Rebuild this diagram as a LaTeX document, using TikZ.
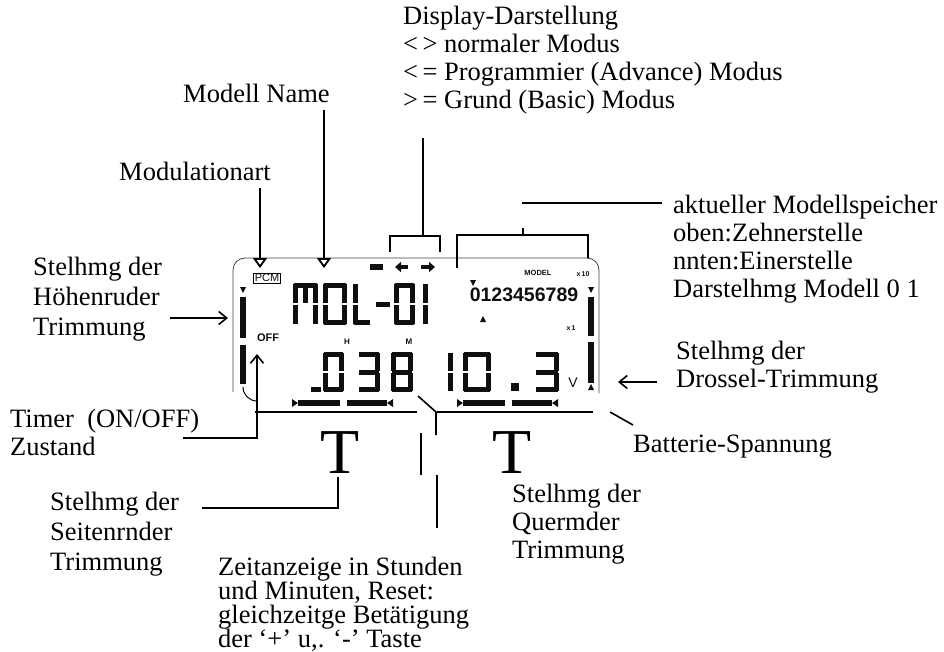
\documentclass[tikz,border=0pt]{standalone}
\usepackage{fontspec}
\setmainfont{Liberation Serif}
\newfontfamily\lcdfont{Liberation Sans}
\usetikzlibrary{arrows.meta}
\definecolor{lcdInk}{RGB}{15,15,15}

% one LCD character: x, y (top left), width, height, segments
\newcommand{\lcdchar}[5]{%
  \begin{scope}[shift={(#1,#2)}]
    \coordinate (sa1) at (1,0);          \coordinate (sa2) at (#3-1,5);
    \coordinate (sb1) at (#3-5,1);       \coordinate (sb2) at (#3,#4/2-1);
    \coordinate (sc1) at (#3-5,#4/2+1);  \coordinate (sc2) at (#3,#4-1);
    \coordinate (sd1) at (1,#4-5);       \coordinate (sd2) at (#3-1,#4);
    \coordinate (se1) at (0,#4/2+1);     \coordinate (se2) at (5,#4-1);
    \coordinate (sf1) at (0,1);          \coordinate (sf2) at (5,#4/2-1);
    \coordinate (sg1) at (1,#4/2-2.5);   \coordinate (sg2) at (#3-1,#4/2+2.5);
    \coordinate (sm1) at (#3/2-2.5,1);   \coordinate (sm2) at (#3/2+2.5,#4/2-1);
    \foreach \s in {#5} {\fill[lcdInk] (s\s1) rectangle (s\s2);}
  \end{scope}}
\newcommand{\lcdtridown}[2]{\fill[lcdInk] (#1-3,#2-3) -- (#1+3,#2-3) -- (#1,#2+3) -- cycle;}
\newcommand{\lcdtriup}[2]{\fill[lcdInk] (#1-3,#2+3) -- (#1+3,#2+3) -- (#1,#2-3) -- cycle;}

\begin{document}
\begin{tikzpicture}[x=1pt, y=-1pt,
    note/.style={anchor=base west, inner sep=0pt, align=left,
                 font={\fontsize{26.5}{28}\selectfont\lineskiplimit=-50pt}},
    wide/.style={font={\fontsize{26.5}{30}\selectfont\lineskiplimit=-50pt}},
    tight/.style={font={\fontsize{26.5}{24}\selectfont\lineskiplimit=-50pt}},
    trimT/.style={anchor=base, inner sep=0pt, font=\fontsize{64}{64}\selectfont},
    lcdtext/.style={inner sep=0pt, text=lcdInk},
    leader/.style={line width=1.6pt},
    pointer/.style={line width=1.6pt, -{Straight Barb[length=8pt,width=13pt]}},
    downtip/.style={line width=1.8pt, -{Triangle[open,length=10pt,width=14pt]}},
    frame/.style={line width=0.8pt, draw=black!75, rounded corners=12pt}]
  \useasboundingbox (0,0) rectangle (944,651);

  % labels (placed at the baseline of their last line)
  \node[note] (disp) at (403,108) {Display-Darstellung\\<\,> normaler Modus\\<\,= Programmier (Advance) Modus\\>\,= Grund (Basic) Modus};
  \node[note] (name) at (183,102) {Modell Name};
  \node[note] (modul) at (119,180) {Modulationart};
  \node[note, wide] (hoehe) at (33,335) {Stelhmg der\\Höhenruder\\Trimmung};
  \node[note] (timer) at (10,455) {Timer\ \ (ON/OFF)\\Zustand};
  \node[note, wide] (seite) at (50,570) {Stelhmg der\\Seitenrnder\\Trimmung};
  \node[note, tight] (zeit) at (218,647) {Zeitanzeige in Stunden\\und Minuten, Reset:\\gleichzeitge Betätigung\\der ‘+’ u,. ‘-’ Taste};
  \node[note] (quer) at (512,558) {Stelhmg der\\Quermder\\Trimmung};
  \node[note] (speich) at (673,297) {aktueller Modellspeicher\\oben:Zehnerstelle\\nnten:Einerstelle\\Darstelhmg Modell 0 1};
  \node[note] (drossel) at (676,387) {Stelhmg der\\Drossel-Trimmung};
  \node[note] (batt) at (633,452) {Batterie-Spannung};
  \node[trimT] (tleft) at (340,473) {T};
  \node[trimT] (tright) at (512,473) {T};

  % LCD frame
  \draw[frame] (233,392) -- (233,258) -- (599,258) -- (599,393);
  \draw[leader] (255,412) -- (417,412);
  \draw[leader] (437,412) -- (593,412);

  % LCD texts
  \node[lcdtext, draw, line width=0.8pt, inner sep=1.2pt, font=\lcdfont\fontsize{11}{11}\selectfont] (pcm) at (267,278) {PCM};
  \node[lcdtext, font=\lcdfont\bfseries\fontsize{11}{11}\selectfont] (off) at (268,338) {OFF};
  \node[lcdtext, font=\lcdfont\bfseries\fontsize{8}{8}\selectfont] (hour) at (347,342) {H};
  \node[lcdtext, font=\lcdfont\bfseries\fontsize{8}{8}\selectfont] (minute) at (409,342) {M};
  \node[lcdtext, font=\lcdfont\bfseries\fontsize{7.5}{7.5}\selectfont] (model) at (538,273) {MODEL};
  \node[lcdtext, font=\lcdfont\bfseries\fontsize{7}{7}\selectfont] (tens) at (583,274) {x\,10};
  \node[lcdtext, font=\lcdfont\bfseries\fontsize{19.5}{19.5}\selectfont] (digits) at (524,295) {0123456789};
  \node[lcdtext, font=\lcdfont\bfseries\fontsize{7}{7}\selectfont] (ones) at (571,328) {x\,1};
  \node[lcdtext, font=\lcdfont\fontsize{14}{14}\selectfont] (volt) at (573,383) {V};
  \lcdtridown{473}{283}
  \lcdtriup{483}{319}

  % model name MDL-01
  \lcdchar{293}{283}{25}{42}{a,b,c,e,f,m}
  \lcdchar{323}{283}{24}{42}{a,b,c,d,e,f}
  \lcdchar{353}{283}{18}{42}{d,e,f}
  \lcdchar{375}{283}{16}{42}{g}
  \lcdchar{394}{283}{21}{42}{a,b,c,d,e,f}
  \lcdchar{418}{283}{10}{42}{b,c}

  % timer 038 and voltage 10.3
  \fill[lcdInk] (311,387) rectangle (321,392);
  \lcdchar{323}{352}{21}{40}{a,b,c,d,e,f}
  \lcdchar{358}{352}{22}{40}{a,b,c,d,g}
  \lcdchar{391}{352}{22}{40}{a,b,c,d,e,f,g}
  \lcdchar{443}{352}{10}{40}{b,c}
  \lcdchar{463}{352}{28}{40}{a,b,c,d,e,f}
  \fill[lcdInk] (511,383) rectangle (519,391);
  \lcdchar{535}{352}{24}{40}{a,b,c,d,g}

  % mode icons
  \fill[lcdInk] (370,264) rectangle (383,270);
  \draw[lcdInk, line width=4pt, -{Triangle[length=6pt,width=10pt]}] (408,267) -- (395,267);
  \draw[lcdInk, line width=4pt, -{Triangle[length=6pt,width=10pt]}] (421,267) -- (435,267);

  % vertical trims
  \lcdtridown{243}{290}
  \fill[lcdInk] (240,297) rectangle (246,338);
  \fill[lcdInk] (240,345) rectangle (246,384);
  \lcdtridown{591}{290}
  \fill[lcdInk] (588,297) rectangle (594,336);
  \fill[lcdInk] (588,342) rectangle (594,383);
  \lcdtriup{591}{387}

  % horizontal trims
  \foreach \xa/\xb in {292/387, 457/552} {
    \fill[lcdInk] (\xa,399) -- (\xa,407) -- (\xa+6,403) -- cycle;
    \fill[lcdInk] (\xa+6,400) rectangle (\xa+48,406);
    \fill[lcdInk] (\xa+55,400) rectangle (\xb,406);
    \fill[lcdInk] (\xb+6,399) -- (\xb+6,407) -- (\xb,403) -- cycle;
  }

  % connectors
  \coordinate (pcmtip) at (260,268);
  \coordinate (nametip) at (324,268);
  \draw[downtip] ([yshift=-8pt]modul.south -| pcmtip) -- (pcmtip);
  \draw[downtip] ([yshift=-8pt]name.south -| nametip) -- (nametip);
  \draw[leader] (423,138) -- (423,236);
  \draw[leader] (390,252) -- (390,236) -- (440,236) -- (440,252);
  \draw[leader] (457,268) -- (457,235) -- (588,235) -- (588,258);
  \draw[leader] (523,228) -- (523,235);
  \draw[leader] (522,203) -- (662,203);
  \draw[pointer] (170,318) -- (228,318);
  \draw[pointer] (183,438) -- (257,438) -- (257,354);
  \draw[line width=1pt] (243,387) to[out=-90,in=180] (257,401);
  \draw[leader] (tleft.south |- 0,477) ++(-2,0) -- (338,508) -- (202,508);
  \draw[leader] (437,528) -- (437,475);
  \draw[leader] (421,475) -- (421,433);
  \draw[leader] (418,396) -- (436,412) -- (436,435);
  \draw[pointer] (657,382) -- (618,382);
  \draw[leader] (610,412) -- (633,425);
\end{tikzpicture}
\end{document}
